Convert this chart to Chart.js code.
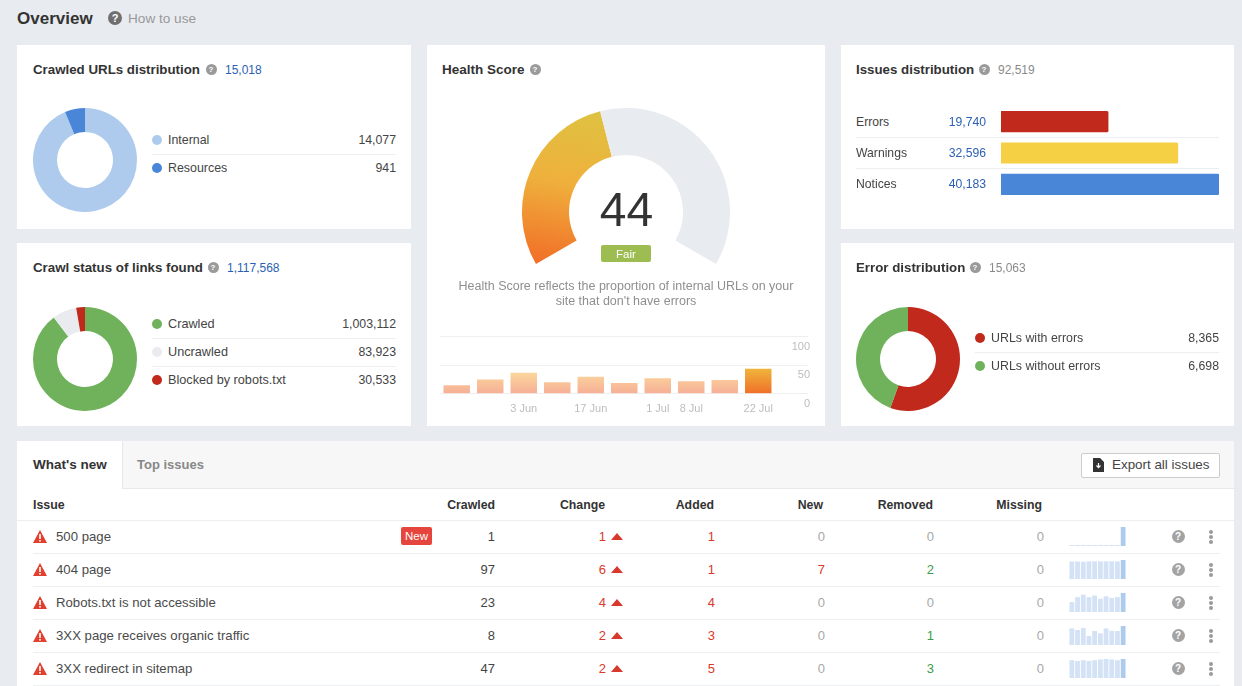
<!DOCTYPE html>
<html><head><meta charset="utf-8">
<script src="https://cdn.jsdelivr.net/npm/chart.js@4"></script>
<style>
html,body{margin:0;padding:0;width:1242px;height:686px;overflow:hidden;background:#e8ebef;font-family:"Liberation Sans",Arial,sans-serif;}
#root{position:relative;width:1242px;height:686px;overflow:hidden;}
.box,.t,canvas,svg.i{position:absolute;}
.t{white-space:nowrap;line-height:20px;height:20px;}
.help{position:absolute;border-radius:50%;background:#9a9a9a;color:#fff;font-weight:bold;text-align:center;}
</style></head><body><div id="root"></div>
<script>
// ---- data ----
const crawledLabels=["Internal","Resources"];
const crawledValues=[14077,941];
const statusLabels=["Crawled","Uncrawled","Blocked by robots.txt"];
const statusValues=[1003112,83923,30533];
const errorLabels=["URLs with errors","URLs without errors"];
const errorValues=[8365,6698];
const issueLabels=["Errors","Warnings","Notices"];
const issueValues=[19740,32596,40183];
const healthScore=[44,56];
const historyLabels=["","","3 Jun","","17 Jun","","1 Jul","8 Jul","","22 Jul"];
const historyValues=[15,25,37,20,30,19,27,22,24,44];
const historyTicks=[0,50,100];
const issueNames=["500 page","404 page","Robots.txt is not accessible","3XX page receives organic traffic","3XX redirect in sitemap"];
const crawledCol=[1,97,23,8,47];
const changeCol=[1,6,4,2,2];
const addedCol=[1,1,4,3,5];
const newCol=[0,7,0,0,0];
const removedCol=[0,2,0,1,3];
const missingCol=[0,0,0,0,0];
const spark1=[0,0,0,0,0,0,0,0,0,1];
const spark2=[89,89,88,90,90,90,90,90,90,97];
const spark3=[12,18,21,18,20,16,19,17,18,23];
const spark4=[7,6.3,7.2,3.8,5.9,4.9,7,6,5.9,8];
const spark5=[44,42,44,42,44,46,47,46,44,47];
const sparks=[spark1,spark2,spark3,spark4,spark5];
const fmt=n=>n.toLocaleString("en-US");

// ---- helpers ----
const root=document.getElementById("root");
function box(x,y,w,h,bg,extra){const d=document.createElement("div");d.className="box";
 d.style.cssText=`left:${x}px;top:${y}px;width:${w}px;height:${h}px;background:${bg};${extra||""}`;root.appendChild(d);return d;}
function txt(s,x,cy,o){o=o||{};const d=document.createElement("div");d.className="t";d.textContent=s;
 let pos=o.right?`right:${1242-x}px;`:(o.center?`left:${x-300}px;width:600px;text-align:center;`:`left:${x}px;`);
 d.style.cssText=`${pos}top:${cy-10}px;font-size:${o.size||13}px;color:${o.color||"#444"};font-weight:${o.bold?"bold":"normal"};`;
 root.appendChild(d);return d;}
function help(cx,cy,dia,color){const d=document.createElement("div");d.className="help";d.textContent="?";
 d.style.cssText=`left:${cx-dia/2}px;top:${cy-dia/2}px;width:${dia}px;height:${dia}px;line-height:${dia}px;font-size:${dia-3}px;background:${color||"#9a9a9a"};`;root.appendChild(d);}
function dot(cx,cy,color){box(cx-5,cy-5,10,10,color,"border-radius:50%;");}
function line(x1,x2,y,c){box(x1,y,x2-x1,1,c||"#eceef0");}
function canvas(x,y,w,h){const c=document.createElement("canvas");c.style.cssText=`left:${x}px;top:${y}px;width:${w}px;height:${h}px;`;c.width=w;c.height=h;root.appendChild(c);return c;}
function svg(x,y,w,h,inner,vb){const ns=document.createElementNS("http://www.w3.org/2000/svg","svg");ns.setAttribute("class","i");
 ns.setAttribute("viewBox",vb||`0 0 ${w} ${h}`);ns.style.cssText=`left:${x}px;top:${y}px;width:${w}px;height:${h}px;`;ns.innerHTML=inner;root.appendChild(ns);}

Chart.defaults.font.family='"Liberation Sans",Arial,sans-serif';
Chart.defaults.animation=false;
Chart.defaults.responsive=false;
Chart.defaults.plugins.legend.display=false;
Chart.defaults.plugins.tooltip.enabled=false;

function donut(cx,cy,labels,values,colors){
 new Chart(canvas(cx-56,cy-56,112,112),{type:"doughnut",data:{labels,datasets:[{data:values,backgroundColor:colors,borderWidth:0}]},
  options:{radius:52,cutout:"53.8%",layout:{padding:0}}});
}

// ---- page head ----
txt("Overview",17,19,{size:17,bold:true,color:"#333"});
help(115,18,14,"#6f6f6f");
txt("How to use",128,18.5,{size:13.6,color:"#999"});

// ---- cards ----
box(17,45,394,184,"#fff");box(17,243,394,183,"#fff");box(427,45,398,381,"#fff");
box(841,45,393,184,"#fff");box(841,243,393,183,"#fff");box(17,441,1217,245,"#fff");
const TS=13.3;

// Crawled URLs
txt("Crawled URLs distribution",33,69.5,{size:TS,bold:true,color:"#333"});help(211,69,11);
txt("15,018",225,69.5,{size:12,color:"#2b5fb3"});
const crawledColors=["#aecbee","#4a86d8"];
donut(85,160,crawledLabels,crawledValues,crawledColors);
crawledLabels.forEach((l,i)=>{const y=140+i*27.5;dot(157,y,crawledColors[i]);txt(l,168,y,{size:12.4});txt(fmt(crawledValues[i]),396,y,{right:true,size:12.3});});
line(152,396,154);

// Crawl status
txt("Crawl status of links found",33,267.5,{size:TS,bold:true,color:"#333"});help(213,267,11);
txt("1,117,568",227,267.5,{size:12,color:"#2b5fb3"});
const statusColors=["#70b25b","#e9ebee","#c0291c"];
donut(85,359,statusLabels,statusValues,statusColors);
statusLabels.forEach((l,i)=>{const y=324+i*27.8;dot(157,y,statusColors[i]);txt(l,168,y,{size:12.7});txt(fmt(statusValues[i]),396,y,{right:true,size:12.3});});
line(152,396,338);line(152,396,366);

// Health score
txt("Health Score",442,69.5,{size:13.5,bold:true,color:"#333"});help(535,69,11);
const gaugeX=516,gaugeY=86;
new Chart(canvas(gaugeX,gaugeY,220,200),{type:"doughnut",
 data:{labels:["Score","Rest"],datasets:[{data:healthScore,borderWidth:0,backgroundColor:c=>{
   if(c.dataIndex===1)return "#e8ebef";
   const g=c.chart.ctx.createLinearGradient(536-gaugeX,265-gaugeY,560-gaugeX,110-gaugeY);
   g.addColorStop(0,"#f16d27");g.addColorStop(.55,"#efb03c");g.addColorStop(1,"#dfc141");return g;}}]},
 options:{rotation:-120,circumference:240,radius:104,cutout:"54.8%",layout:{padding:0}}});
txt("44",626.5,210,{center:true,size:48,color:"#333"});
box(601,245,50,17,"#9dbd52","border-radius:2px;");
txt("Fair",626,254,{center:true,size:11.5,color:"#fff"});
txt("Health Score reflects the proportion of internal URLs on your",626,285.5,{center:true,size:12.5,color:"#8f8f8f"});
txt("site that don't have errors",626,300.5,{center:true,size:12.5,color:"#8f8f8f"});

new Chart(canvas(440,330,370,86),{type:"bar",
 data:{labels:historyLabels,datasets:[{data:historyValues,categoryPercentage:1,barPercentage:.79,backgroundColor:c=>{
   if(!c.chart.chartArea)return "#f5b296";
   const y0=c.chart.scales.y.getPixelForValue(0),y1=c.chart.scales.y.getPixelForValue(c.dataIndex===9?44:37);
   const g=c.chart.ctx.createLinearGradient(0,y0,0,y1);
   if(c.dataIndex===9){g.addColorStop(0,"#f06f28");g.addColorStop(1,"#efb53c");}
   else{g.addColorStop(0,"#f6ae96");g.addColorStop(1,"#fbd69c");}
   return g;}}]},
 options:{layout:{padding:{top:6,right:0,bottom:0,left:0}},
  scales:{
   x:{grid:{display:false},border:{display:false},ticks:{autoSkip:false,maxRotation:0,font:{size:11},color:"#bdbdbd",padding:0.5}},
   y:{position:"right",min:0,max:100,afterBuildTicks:s=>{s.ticks=historyTicks.map(v=>({value:v}));},
      afterFit:s=>{s.width=35;},
      grid:{color:"#eeeff1",tickLength:33,tickColor:"#eeeff1"},border:{display:false},
      ticks:{font:{size:11},color:"#bdbdbd",crossAlign:"far",labelOffset:10,padding:0}}
  }}});

// Issues distribution
txt("Issues distribution",856,69.5,{size:TS,bold:true,color:"#333"});help(984,69,11);
txt("92,519",998,69.5,{size:12,color:"#8a8a8a"});
issueLabels.forEach((l,i)=>{const y=122+i*31.2;txt(l,856,y,{size:12.2});txt(fmt(issueValues[i]),986,y,{right:true,size:12.2,color:"#2b5fb3"});});
line(856,1219,137);line(856,1219,168);
new Chart(canvas(1001,106,218,94),{type:"bar",
 data:{labels:issueLabels,datasets:[{data:issueValues,barThickness:20.5,borderRadius:1.5,backgroundColor:["#c0291c","#f5d044","#4a86d8"]}]},
 options:{indexAxis:"y",layout:{padding:0},scales:{x:{display:false,min:0,max:issueValues[2]},y:{display:false}}}});

// Error distribution
txt("Error distribution",856,267.5,{size:TS,bold:true,color:"#333"});help(975,267,11);
txt("15,063",989,267.5,{size:12,color:"#8a8a8a"});
const errorColors=["#c0291c","#70b25b"];
donut(908,359,errorLabels,errorValues,errorColors);
errorLabels.forEach((l,i)=>{const y=338+i*28;dot(980,y,errorColors[i]);txt(l,991,y,{size:12.4});txt(fmt(errorValues[i]),1219,y,{right:true,size:12.3});});
line(975,1219,352);

// ---- table ----
box(122,441,1112,47,"#f7f7f7","border-left:1px solid #e8e8e8;border-bottom:1px solid #e8e8e8;width:1111px;");
txt("What's new",33,465,{size:13.5,bold:true,color:"#333"});
txt("Top issues",137,465,{bold:true,color:"#888"});
box(1081,453,137,23,"#fff","border:1px solid #ccc;border-radius:2px;");
svg(1092,458,12,14,'<path d="M1 0h7l4 4v10H1z" fill="#333"/><path d="M6.5 5v4M4.5 7.5l2 2.2 2-2.2" stroke="#fff" stroke-width="1.2" fill="none"/>');
txt("Export all issues",1112,465,{size:13.4,color:"#444"});
txt("Issue",33,505,{bold:true,size:12.4,color:"#333"});
[["Crawled",495],["Change",605],["Added",714],["New",823],["Removed",933],["Missing",1042]].forEach(h=>txt(h[0],h[1],505,{bold:true,size:12.3,color:"#333",right:true}));
line(17,1234,520);
const RED="#d8392c",GREEN="#3f9b4c",GREY="#a8a8a8";
issueNames.forEach((n,i)=>{
 const y=536.5+33*i;
 svg(33,y-7,14,13,'<path d="M7 0l7 13H0z" fill="#e2402f"/><rect x="6.2" y="4" width="1.6" height="5" fill="#fff"/><rect x="6.2" y="10" width="1.6" height="1.6" fill="#fff"/>');
 txt(n,56,y,{size:13.2,color:"#4a4a4a"});
 txt(fmt(crawledCol[i]),495,y,{right:true,color:"#444"});
 txt(changeCol[i],606,y,{right:true,color:RED});
 svg(611,y-4,12,7,'<path d="M6 0l6 7H0z" fill="#d8392c"/>');
 txt(addedCol[i],715,y,{right:true,color:addedCol[i]?RED:GREY});
 txt(newCol[i],825,y,{right:true,color:newCol[i]?RED:GREY});
 txt(removedCol[i],934,y,{right:true,color:removedCol[i]?GREEN:GREY});
 txt(missingCol[i],1044,y,{right:true,color:GREY});
 const vals=sparks[i],top=527.3+33*i;
 new Chart(canvas(1068.5,top,57,19),{type:"bar",
  data:{labels:vals.map((_,k)=>k),datasets:[{data:vals,categoryPercentage:1,barPercentage:.84,minBarLength:1,
    backgroundColor:vals.map((_,k)=>k===9?"#aecbee":"#d3e2f5")}]},
  options:{layout:{padding:0},scales:{x:{display:false},y:{display:false,min:0,max:vals[9]}}}});
 help(1178,y,13,"#a3a3a3");
 [-5,0,5].forEach(d=>box(1209,y+d-2,4,4,"#9a9a9a","border-radius:50%;"));
 line(33,1220,Math.round(y+16.5));
});
box(401,527,31,18,"#e5453c","border-radius:2px;");
txt("New",416.5,536,{center:true,size:11.5,color:"#fff"});
</script></body></html>
